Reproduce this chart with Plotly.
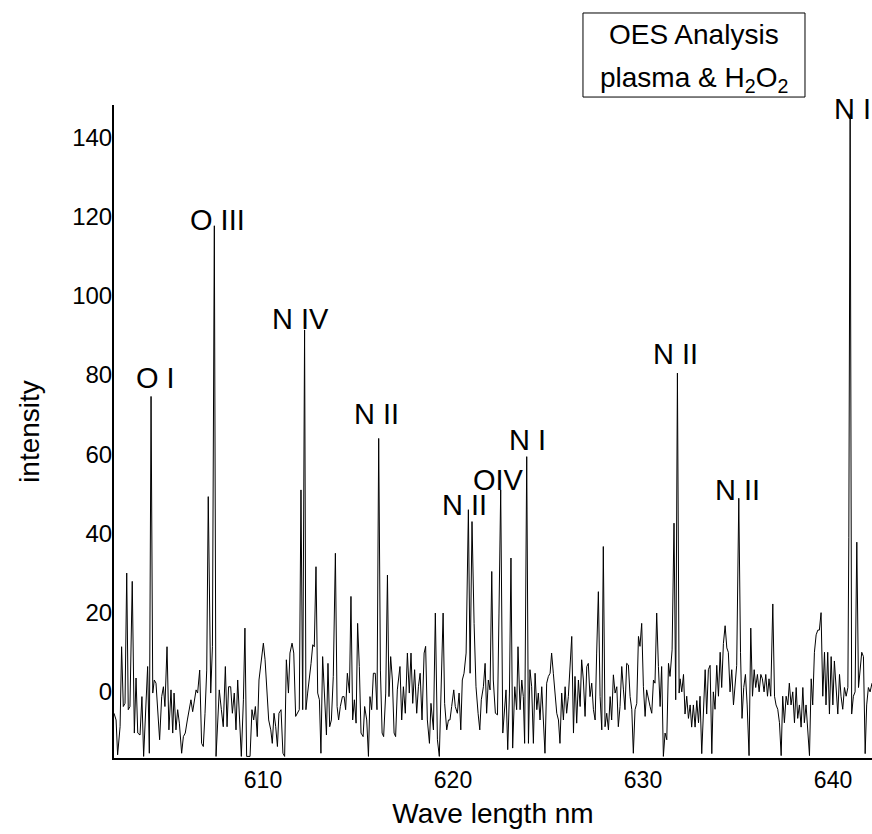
import plotly.graph_objects as go

# ---- data: (wavelength nm, intensity) ----
seg_a = [(602.16,-5.4),(602.27,-7.1),(602.35,-15.9),(602.48,-8.8),(602.56,11.4),(602.65,-3.7),(602.74,-2.9),(602.83,30.0),
(602.91,-4.5),(603.00,-3.7),(603.12,27.9),(603.23,-10.4),(603.32,3.5),(603.41,-10.4),(603.53,-10.9),(603.63,-1.2),
(603.72,-16.3),(603.83,-3.7),(603.93,6.4),(604.02,-15.5),(604.11,74.6),(604.20,-0.3),(604.28,3.0),(604.37,2.2),
(604.46,-4.5),(604.56,-12.1),(604.67,-1.2),(604.76,1.3),(604.84,-3.7),(604.95,11.4),(605.05,-9.6),(605.16,0.5),
(605.25,-10.4),(605.32,-0.3),(605.42,-9.6),(605.51,-4.5),(605.60,-7.9),(605.72,-15.5),(605.81,-11.3),(605.91,-10.4),
(606.02,-7.1),(606.12,-4.5),(606.21,-2.0),(606.30,-5.0),(606.39,-2.0),(606.48,0.5),(606.56,-0.3),(606.67,5.5),
(606.77,-13.0),(606.86,-13.8),(606.95,-5.4),(607.04,5.5),(607.12,49.3),(607.25,-0.3),(607.34,11.4),(607.44,117.7),
(607.53,-16.3),(607.62,-8.8),(607.70,0.5),(607.81,-4.5),(607.91,-8.8),(608.02,6.4),(608.11,-8.8),(608.19,1.3),
(608.30,1.3),(608.39,-5.4),(608.49,-0.3),(608.58,-9.6),(608.67,3.0),(608.77,-7.1),(608.86,-16.3),(608.97,-2.0),
(609.05,16.1),(609.14,-16.3),(609.25,-16.3),(609.32,-16.3),(609.42,-4.5),(609.51,-7.1),(609.60,-3.7),(609.70,-11.3),
(609.79,3.0),(609.90,8.1),(610.02,12.3),(610.11,8.1),(610.20,-0.3),(610.30,-7.1),(610.41,-9.6),(610.49,-13.0),
(610.58,-5.4),(610.67,-8.8),(610.76,-13.8),(610.84,-5.4),(610.95,-4.5),(611.05,-15.5),(611.14,-16.3),(611.23,8.1),
(611.34,-0.3),(611.42,9.8),(611.53,12.3),(611.62,9.8),(611.72,-6.2),(611.81,-5.4),(611.91,-4.5),(612.00,51.0),
(612.09,-4.5),(612.19,91.4),(612.26,-4.5),(612.35,-0.3),(612.44,3.0),(612.53,7.2),(612.62,11.9),(612.70,11.4),
(612.79,31.6),(612.88,-0.3),(612.97,-2.0),(613.05,-15.5),(613.14,8.9),(613.23,-0.3),(613.34,-10.9),(613.42,7.2),
(613.51,-8.8),(613.60,-7.1),(613.70,3.9),(613.81,35.0),(613.90,-3.7),(613.98,-7.1),(614.07,-3.7),(614.18,-1.2),
(614.27,-1.2),(614.35,-4.5),(614.44,4.7),(614.55,-0.3),(614.63,24.1),(614.72,-7.1),(614.81,-2.0),(614.90,-7.9),
(614.98,17.3),(615.07,6.4),(615.16,-10.4),(615.27,-11.3),(615.35,-3.7),(615.46,-7.1),(615.55,-16.3),(615.63,-1.2),
(615.72,-4.5),(615.81,4.7),(615.91,4.7),(616.00,-4.5),(616.09,64.0),(616.18,5.5),(616.27,-10.4),(616.35,-11.3),
(616.46,-0.3),(616.55,29.5),(616.63,-1.2),(616.72,8.9),(616.81,3.0),(616.90,-10.4),(616.98,-11.3),(617.07,0.5)]

seg_b = [(617.21,6.4),(617.30,-7.1),(617.39,1.3),(617.49,-5.4),(617.60,9.8),(617.70,-0.3),(617.79,9.8),(617.88,-2.9),
(617.98,5.6),(618.09,-5.4),(618.18,1.3),(618.27,4.7),(618.37,-7.1),(618.48,9.8),(618.56,11.5),(618.65,-7.1),
(618.76,-13.0),(618.84,-2.9),(618.97,-9.6),(619.07,19.9),(619.18,-12.1),(619.28,-16.3),(619.39,4.7),(619.48,19.9),
(619.56,-2.9),(619.67,-9.6),(619.76,-7.1),(619.84,-7.1),(619.93,-3.7),(620.04,0.5),(620.12,-3.7),(620.23,-5.4),
(620.32,-0.3),(620.41,-9.6),(620.49,3.0),(620.58,4.7),(620.69,9.8),(620.81,46.0),(620.90,4.7),(621.00,43.0),
(621.11,17.3),(621.21,1.3),(621.32,-5.4),(621.41,-9.6),(621.49,-2.0),(621.60,1.3),(621.69,7.2),(621.77,-5.4),
(621.86,3.0),(621.95,0.5),(622.04,30.4),(622.12,3.0),(622.23,-5.4),(622.34,-5.8),(622.42,19.9),(622.51,51.0),
(622.62,-10.4),(622.70,-4.5),(622.79,0.5),(622.88,-14.6),(622.97,-0.3),(623.05,33.8),(623.14,-14.2),(623.25,1.3),
(623.35,-4.5),(623.42,11.4),(623.53,-4.5),(623.62,3.0),(623.70,-1.2),(623.77,-13.0),(623.88,59.4),(623.97,-13.0),
(624.05,5.6),(624.14,1.3),(624.23,-13.0),(624.32,4.7),(624.41,-4.5),(624.49,-0.3),(624.58,-7.1),(624.67,1.3),
(624.76,-7.1),(624.84,-15.5),(624.93,2.2),(625.02,3.9),(625.11,4.7),(625.19,9.8),(625.28,4.7),(625.37,-0.3),
(625.46,-5.4),(625.55,-7.1),(625.63,-13.0),(625.72,-0.3),(625.81,-7.1),(625.90,1.3),(625.98,-5.4),(626.07,-1.2),
(626.16,6.4),(626.25,14.0),(626.34,-10.4),(626.42,3.9),(626.51,-7.9),(626.60,3.0),(626.69,-3.7),(626.77,8.1),
(626.86,3.0),(626.95,-6.2),(627.04,6.4),(627.12,7.2),(627.21,-1.2),(627.30,2.2),(627.39,-4.5),(627.48,-7.1),
(627.56,9.8),(627.65,25.3),(627.74,-1.2),(627.83,-9.6),(627.91,36.7),(628.00,-8.8),(628.09,-5.4),(628.18,-9.6),
(628.27,-1.2),(628.35,-7.1),(628.44,4.3),(628.53,-0.3),(628.62,1.3),(628.70,-8.8),(628.79,-3.7),(628.88,6.4),
(628.97,0.5),(629.05,-4.5),(629.14,7.2),(629.23,6.8),(629.32,-1.2),(629.41,-4.5),(629.49,-15.5),(629.58,-4.5),
(629.67,-2.9),(629.76,14.0),(629.84,11.5),(629.93,17.3),(630.02,1.3),(630.11,-6.2),(630.19,0.5),(630.28,-2.0),
(630.37,-3.7),(630.46,-5.4),(630.55,3.0),(630.63,2.2),(630.72,19.9),(630.81,6.4),(630.90,-3.7),(630.98,6.4),
(631.07,-16.3),(631.16,-10.4),(631.25,-12.1),(631.34,7.2),(631.42,3.9),(631.53,10.6),(631.63,42.6),(631.72,-2.0),
(631.81,80.5),(631.90,-0.3)]

seg_c = [(631.95,3.3),(632.04,0.0),(632.13,4.4),(632.21,-5.6),(632.30,-1.1),(632.39,-6.7),(632.48,-3.3),(632.56,-8.9),
(632.65,-3.3),(632.74,-8.9),(632.83,-2.2),(632.92,-7.8),(633.00,-1.1),(633.09,-15.6),(633.18,-3.3),(633.27,5.6),
(633.35,-5.6),(633.44,5.6),(633.53,6.7),(633.62,-15.6),(633.70,0.0),(633.79,-4.4),(633.88,6.7),(633.97,-1.1),
(634.06,10.0),(634.14,1.1),(634.23,12.2),(634.32,16.7),(634.41,11.1),(634.49,10.0),(634.58,0.0),(634.67,5.6),
(634.76,-3.3),(634.85,3.3),(634.93,6.7),(635.04,48.9),(635.13,10.0),(635.21,-6.7),(635.30,1.1),(635.39,4.4),
(635.48,-3.3),(635.58,-16.1),(635.67,16.1),(635.76,-1.1),(635.85,5.6),(635.93,1.1),(636.02,4.4),(636.11,0.0),
(636.20,4.4),(636.28,3.3),(636.37,0.0),(636.46,4.4),(636.55,-1.1),(636.63,3.3),(636.72,-1.1),(636.83,22.2),
(636.92,-1.1),(637.00,-3.3),(637.09,-4.4),(637.18,-7.8),(637.27,-16.1),(637.35,-1.1),(637.44,-7.8),(637.53,-1.1),
(637.62,-3.3),(637.70,2.2),(637.79,-3.3),(637.88,0.0),(637.97,-7.8),(638.06,1.1),(638.14,-6.7),(638.23,-3.3),
(638.32,-8.9),(638.41,1.1),(638.49,-7.8),(638.58,-3.3),(638.67,-10.0),(638.76,-16.1),(638.85,3.3),(638.93,-3.3),
(639.02,10.0),(639.11,14.4),(639.20,15.6),(639.28,15.6),(639.37,20.0),(639.46,-1.1),(639.55,10.0),(639.63,-3.3),
(639.72,10.0),(639.81,-5.6),(639.90,8.9),(639.99,-3.3),(640.07,7.8),(640.16,0.0),(640.25,-5.6),(640.34,4.4),
(640.42,-1.1),(640.51,-4.4),(640.60,1.1),(640.69,-1.1),(640.78,1.1),(640.83,38.9),(640.90,146.0),(640.98,-5.6),
(641.07,-1.1),(641.16,0.0),(641.25,37.8),(641.34,1.1),(641.42,5.6),(641.51,10.0),(641.60,8.9),(641.69,-15.6),
(641.77,-3.3),(641.86,1.1),(641.95,0.0),(642.05,2.2)]

# emission line labels
line_labels = ["O I", "O III", "N IV", "N II", "N II", "OIV", "N I", "N II", "N II", "N I"]
label_wl    = [604.32, 607.63, 612.0, 615.95, 620.58, 622.42, 623.9, 631.69, 634.95, 641.03]
label_int   = [79.3, 119.2, 94.2, 70.2, 47.1, 53.5, 63.6, 85.4, 50.9, 147.3]

# legend-box text lines
box_lines = ["OES Analysis", "plasma &amp; H<sub>2</sub>O<sub>2</sub>"]

x_ticks = [610, 620, 630, 640]
y_ticks = [0, 20, 40, 60, 80, 100, 120, 140]

spectrum = seg_a + seg_b + seg_c
wavelength = [p[0] for p in spectrum]
intensity = [p[1] for p in spectrum]

FONT = "Liberation Sans, Arial, sans-serif"

fig = go.Figure()
fig.add_trace(go.Scatter(x=wavelength, y=intensity, mode="lines",
                         line=dict(color="black", width=1), hoverinfo="skip",
                         showlegend=False))

for lab, xw, yi in zip(line_labels, label_wl, label_int):
    fig.add_annotation(x=xw, y=yi, text=lab, showarrow=False, xref="x", yref="y",
                       xanchor="center", yanchor="middle",
                       font=dict(family=FONT, size=29, color="black"))

# framed text box (top right)
fig.add_shape(type="rect", xref="paper", yref="paper",
              x0=0.6187, x1=0.9116, y0=1.0122, y1=1.1409,
              line=dict(color="black", width=1), fillcolor="white", layer="above")
fig.add_annotation(xref="paper", yref="paper", x=0.765, y=1.1072, text=box_lines[0],
                   showarrow=False, xanchor="center", yanchor="middle",
                   font=dict(family=FONT, size=28, color="black"))
fig.add_annotation(xref="paper", yref="paper", x=0.765, y=1.0392, text=box_lines[1],
                   showarrow=False, xanchor="center", yanchor="middle",
                   font=dict(family=FONT, size=28, color="black"))

fig.update_layout(
    width=872, height=834,
    margin=dict(l=114, r=0, t=105, b=76),
    paper_bgcolor="white", plot_bgcolor="white",
    font=dict(family=FONT, color="black"),
    xaxis=dict(range=[602.16, 642.05], tickvals=x_ticks, ticks="", showgrid=False,
               zeroline=False, showline=True, linecolor="black", linewidth=2,
               tickfont=dict(size=23, family=FONT),
               title=dict(text="Wave length nm", font=dict(size=28, family=FONT), standoff=12)),
    yaxis=dict(range=[-16.7, 148.2], tickvals=y_ticks, ticks="", showgrid=False,
               zeroline=False, showline=True, linecolor="black", linewidth=2,
               tickfont=dict(size=24, family=FONT), ticklabelstandoff=-5,
               title=dict(text="intensity", font=dict(size=28, family=FONT), standoff=24)),
)

fig.write_html("out.html", config={"displayModeBar": False},
               post_script="document.body.style.margin='0';document.body.style.padding='0';")
